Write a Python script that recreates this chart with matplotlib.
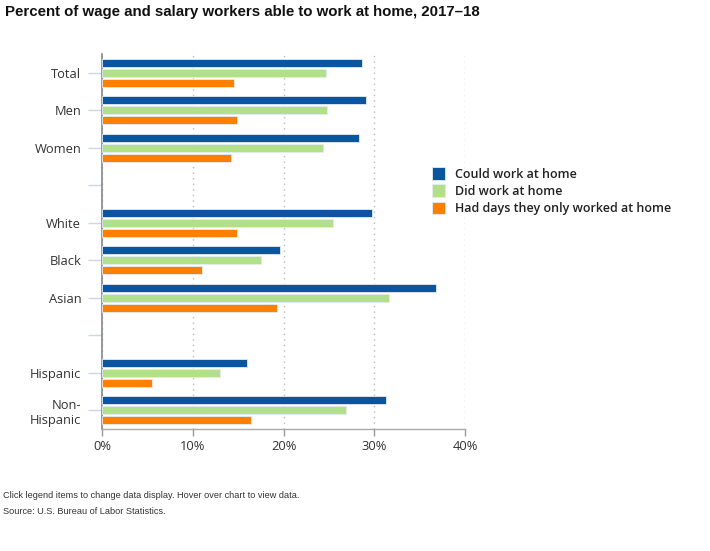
import matplotlib

matplotlib.use("Agg")

import matplotlib.pyplot as plt
import numpy as np
from matplotlib import font_manager
from matplotlib.patches import Patch


CATEGORIES = ["Total", "Men", "Women", "", "White", "Black", "Asian", "", "Hispanic", "Non-\nHispanic"]
SERIES = ["Could work at home", "Did work at home", "Had days they only worked at home"]
COULD = [28.7, 29.1, 28.3, None, 29.8, 19.6, 36.8, None, 16.0, 31.3]
DID = [24.7, 24.8, 24.4, None, 25.5, 17.5, 31.6, None, 13.0, 26.9]
ONLY = [14.6, 14.9, 14.2, None, 14.9, 11.0, 19.3, None, 5.5, 16.4]
X_TICKS = [0, 10, 20, 30, 40]
X_LABELS = ["0%", "10%", "20%", "30%", "40%"]

COLORS = ["#0b549f", "#b2df8a", "#ff7f00"]
W, H = 710, 551


def narrow_family():
    try:
        font_manager.findfont("Liberation Sans Narrow", fallback_to_default=False)
        return "Liberation Sans Narrow", 1.0
    except ValueError:
        return "Liberation Sans", 0.8


def main():
    narrow, scale = narrow_family()
    fig = plt.figure(figsize=(W / 100, H / 100), dpi=100)
    ax = fig.add_axes([102 / W, 1 - 429 / H, (465 - 102) / W, (429 - 54) / H])

    y = np.arange(len(CATEGORIES))
    pitch = 10 / 37.5
    height = 8 / 37.5
    for i, (vals, color) in enumerate(zip([COULD, DID, ONLY], COLORS)):
        ys = [yy + (i - 1) * pitch for yy, v in zip(y, vals) if v is not None]
        vs = [v for v in vals if v is not None]
        ax.barh(ys, vs, height=height, color=color, edgecolor="#e4ecf4", linewidth=0.6, zorder=3)

    ax.set_ylim(len(CATEGORIES) - 0.5, -0.5)
    ax.set_xlim(0, 40)
    ax.set_yticks(y)
    ax.set_yticklabels(CATEGORIES, fontsize=9.3, color="#333333", family="Open Sans")
    for lab in ax.get_yticklabels():
        lab.set_multialignment("right")
    ax.set_xticks(X_TICKS)
    ax.set_xticklabels(X_LABELS, fontsize=9.3, color="#333333", family="Open Sans")

    ax.tick_params(axis="y", length=10, width=1, color="#ccd6eb", pad=5)
    ax.tick_params(axis="x", length=5, width=1, color="#999999", pad=3)
    ax.grid(axis="x", linestyle=(0, (1, 3)), color="#bbbbbb", linewidth=1, zorder=0)

    for side in ["top", "right"]:
        ax.spines[side].set_visible(False)
    ax.spines["left"].set_color("#888888")
    ax.spines["left"].set_linewidth(1.2)
    ax.spines["bottom"].set_color("#aaaaaa")
    ax.spines["bottom"].set_linewidth(1)

    handles = [Patch(facecolor=c, edgecolor="#e4ecf4", linewidth=0.6) for c in COLORS]
    leg = fig.legend(
        handles,
        SERIES,
        loc="upper left",
        bbox_to_anchor=(426 / W, 1 - 161 / H),
        frameon=False,
        handlelength=1.0,
        handleheight=1.15,
        handletextpad=0.85,
        labelspacing=0.3,
        borderpad=0,
        prop={"family": "Open Sans", "weight": "semibold", "size": 9.0},
    )
    for t in leg.get_texts():
        t.set_color("#222222")

    fig.text(5 / W, 1 - 12 / H, "Percent of wage and salary workers able to work at home, 2017\u201318",
             fontsize=13.5 * scale, weight="bold", family=narrow, color="#111111", va="center")
    fig.text(3 / W, 1 - 496 / H, "Click legend items to change data display. Hover over chart to view data.",
             fontsize=8 * 0.82, family=narrow, color="#333333", va="center")
    fig.text(3 / W, 1 - 512 / H, "Source: U.S. Bureau of Labor Statistics.",
             fontsize=8 * 0.82, family=narrow, color="#333333", va="center")

    fig.savefig("out.png", dpi=100)
    plt.close(fig)


if __name__ == "__main__":
    main()
